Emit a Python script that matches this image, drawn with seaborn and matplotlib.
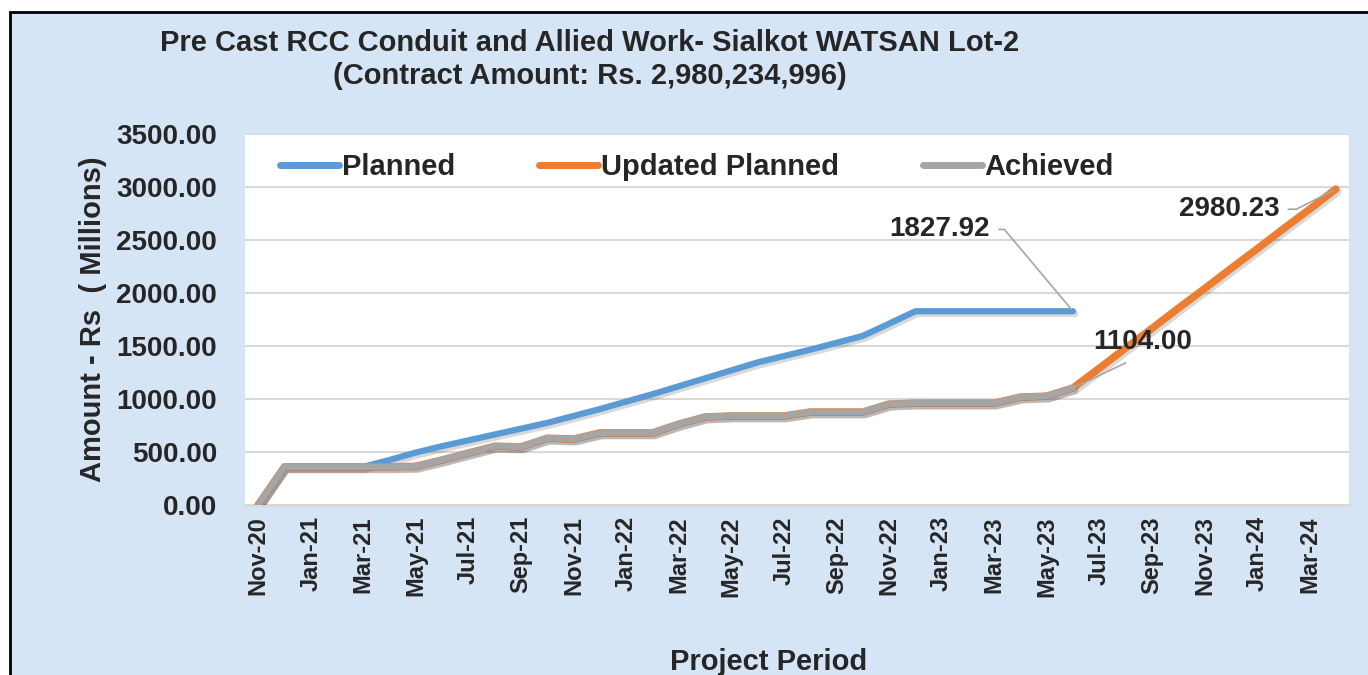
""" Cumulative financial progress chart: Pre Cast RCC Conduit, Sialkot WATSAN Lot-2 """
import numpy as np
import pandas as pd
import matplotlib
matplotlib.use("Agg")
import matplotlib.pyplot as plt
import matplotlib.patheffects as pe
from matplotlib.patches import Rectangle
from matplotlib.ticker import StrMethodFormatter
import seaborn as sns

""" Data (Rs. millions), one value per month from Nov-20 """
months = list(pd.date_range("2020-11-01", periods=42, freq="MS").strftime("%b-%y"))
planned = [0, 360, 360, 360, 360, 425, 495, 555, 610, 665, 720, 775, 840, 905,
           975, 1045, 1120, 1195, 1270, 1345, 1405, 1465, 1530, 1595, 1710,
           1827.92, 1827.92, 1827.92, 1827.92, 1827.92, 1827.92, 1827.92]
achieved = [0, 360, 360, 360, 360, 360, 365, 425, 490, 555, 548, 630, 622, 680,
            680, 680, 763, 830, 840, 840, 840, 877, 877, 877, 952, 961, 961,
            961, 961, 1018, 1027, 1104.00]
projection = [1290, 1480, 1665, 1855, 2040, 2230, 2415, 2605, 2790, 2980.23]
updated_planned = achieved + projection

y_ticks = [0, 500, 1000, 1500, 2000, 2500, 3000, 3500]
title = "Pre Cast RCC Conduit and Allied Work- Sialkot WATSAN Lot-2\n(Contract Amount: Rs. 2,980,234,996)"

sns.set_style("white")
plt.rcParams["font.family"] = ["Liberation Sans", "DejaVu Sans"]
plt.rcParams["font.weight"] = "bold"

W, H = 1368, 675
fig = plt.figure(figsize=(W / 100, H / 100), dpi=100)
fig.patch.set_facecolor("white")
""" Light blue page background with a black frame on top and left """
fig.add_artist(Rectangle((10 / W, -0.1), 1.2, 1 - 12 / H + 0.1, transform=fig.transFigure,
                         facecolor="#d5e5f5", edgecolor="black", lw=2, zorder=-10))

ax = fig.add_axes([245 / W, 1 - 505 / H, 1104 / W, 371 / H])
ax.set_facecolor("white")

shadow = [pe.SimpleLineShadow(offset=(1.5, -2), shadow_color="black", alpha=0.15), pe.Normal()]
series = [("Planned", planned, "#5b9bd5", 4.5),
          ("Updated Planned", updated_planned, "#ed7d31", 5.4),
          ("Achieved", achieved, "#a5a5a5", 4.8)]
for i, (name, values, color, lw) in enumerate(series):
    df = pd.DataFrame({"x": np.arange(len(values)), "y": values})
    sns.lineplot(data=df, x="x", y="y", ax=ax, color=color, lw=lw, label=name,
                 solid_capstyle="round", solid_joinstyle="round",
                 path_effects=shadow, zorder=3 + i)

""" Axes formatting """
ax.set_xlim(-0.5, len(months) - 0.5)
ax.set_ylim(0, 3500)
ax.set_yticks(y_ticks)
ax.yaxis.set_major_formatter(StrMethodFormatter("{x:.2f}"))
ax.set_xticks(range(0, len(months), 2))
ax.set_xticklabels(months[::2], rotation=90, fontsize=17, fontweight="bold")
ax.tick_params(axis="y", labelsize=20, pad=20, length=0)
ax.tick_params(axis="x", pad=8, length=0)
ax.grid(axis="y", color="#d9d9d9", lw=1.5, zorder=0)
for side in ["top", "right", "left"]:
    ax.spines[side].set_visible(False)
ax.spines["bottom"].set_color("#d9d9d9")
ax.spines["bottom"].set_linewidth(2)

ax.set_ylabel("Amount - Rs  ( Millions)", fontsize=21, fontweight="bold")
ax.yaxis.set_label_coords(-0.125, 0.5)
ax.set_xlabel("Project Period", fontsize=21, fontweight="bold")
ax.xaxis.set_label_coords(0.474, -0.385)

fig.text(590 / W, 1 - 29 / H, title, ha="center", va="top", fontsize=21,
         fontweight="bold", linespacing=1.25)

leg = ax.legend(loc="center left", bbox_to_anchor=(0.032, 0.911), ncol=3, frameon=False,
                borderaxespad=0, borderpad=0, handlelength=2.0, handletextpad=0.1,
                columnspacing=2.9, prop={"weight": "bold", "size": 21})
for line in leg.get_lines():
    line.set_linewidth(5)
    line.set_path_effects([])

""" Data labels with leader lines """
leader = dict(arrowstyle="-", color="#a6a6a6", lw=1.2, shrinkA=4, shrinkB=2)
label_style = dict(fontsize=20, fontweight="bold", va="center", zorder=10)
ax.annotate(f"{planned[-1]:.2f}", xy=(len(planned) - 1, planned[-1]), xytext=(27.85, 2600),
            ha="right", arrowprops=dict(leader, connectionstyle="angle,angleA=0,angleB=130,rad=0"),
            **label_style)
ax.annotate(f"{achieved[-1]:.2f}", xy=(len(achieved) - 1, achieved[-1]), xytext=(33.65, 1540),
            ha="center", arrowprops=dict(leader, relpos=(0.5, 0.0), shrinkA=8, shrinkB=3),
            **label_style)
ax.annotate(f"{updated_planned[-1]:.2f}", xy=(len(updated_planned) - 1, updated_planned[-1]),
            xytext=(38.85, 2790), ha="right",
            arrowprops=dict(leader, connectionstyle="angle,angleA=0,angleB=27,rad=0"), **label_style)

fig.savefig("out.png", dpi=100)
